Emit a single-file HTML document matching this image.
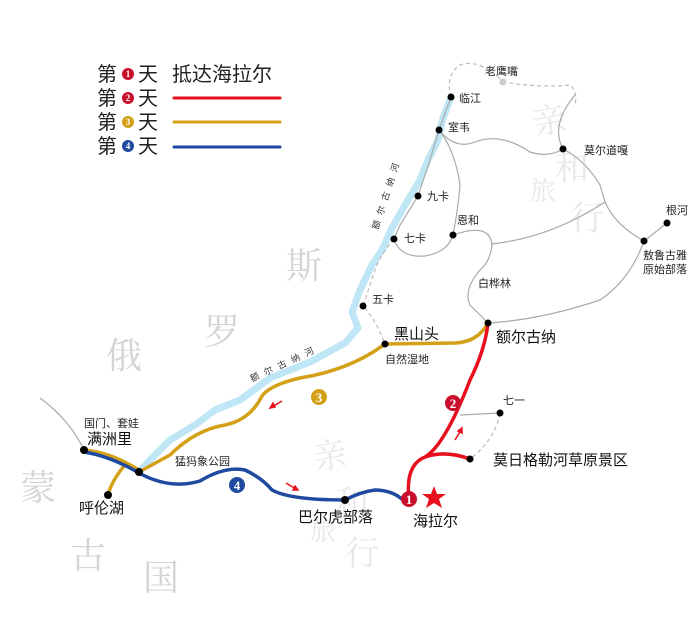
<!DOCTYPE html>
<html><head><meta charset="utf-8"><style>
html,body{margin:0;padding:0;background:#fff;}
svg{display:block;font-family:"Liberation Sans","Noto Sans CJK SC",sans-serif;}
</style></head><body>
<svg width="700" height="627" viewBox="0 0 700 627" xmlns="http://www.w3.org/2000/svg">
<g fill="#d4d4d4" font-size="36" font-family="'Noto Serif CJK SC','Noto Sans CJK SC',sans-serif">
<text x="286" y="278">斯</text>
<text x="204" y="344">罗</text>
<text x="106" y="368">俄</text>
<text x="20" y="500">蒙</text>
<text x="70" y="568">古</text>
<text x="143" y="590">国</text>
</g>
<g fill="#e8e8e8" font-size="34" font-family="'Noto Serif CJK SC',serif">
<text x="535" y="135" transform="rotate(-10 535 135)">亲</text>
<text x="555" y="180">和</text>
<text x="530" y="200" font-size="26">旅</text>
<text x="570" y="230">行</text>
<text x="315" y="470" transform="rotate(-10 315 470)">亲</text>
<text x="335" y="515">和</text>
<text x="310" y="540" font-size="26">旅</text>
<text x="345" y="565">行</text>
</g>
<path d="M451,97 L443,118 L438,140 L428,160 L420,180 L405,205 L392,228 L382,250 L372,265 L360,290 L352,312 L358,328 L345,343 L310,362 L270,378 L240,400 L215,410 L195,425 L170,440 L150,460 L139,472" fill="none" stroke="#bfe6f5" stroke-width="7" stroke-linejoin="round"/>
<g fill="none" stroke="#aaa" stroke-width="1.2">
<path d="M451,97 L439,130 L430,160 L418,196 L400,225 L394,239 Q400,258 425,256 Q448,252 453,235 Q458,210 460,185 Q455,150 439,130"/>
<path d="M439,130 Q455,150 475,142 Q500,132 530,152 Q548,158 563,149 Q585,160 600,185 L605,202 Q615,225 644,241"/>
<path d="M563,149 Q550,125 575,95"/>
<path d="M453,235 Q490,222 492,245 Q490,262 480,270 Q463,290 470,305 Q480,315 488,323"/>
<path d="M491,244 Q550,238 605,202"/>
<path d="M488,323 Q540,320 600,300 Q630,280 644,241 L667,223"/>
<path d="M460,415 L500,413"/>
<path d="M40,398 Q70,420 84,450"/>
</g>
<g fill="none" stroke="#bbb" stroke-width="1.2" stroke-dasharray="4,3">
<path d="M451,97 Q445,75 460,65 Q480,58 503,82 Q540,88 570,85 Q578,92 575,105"/>
<path d="M394,239 Q380,255 375,270 L363,306 Q375,318 385,344"/>
<path d="M500,413 Q495,440 470,459"/>
</g>
<path d="M488,323 Q478,342 455,343 L385,344 Q350,370 300,378 Q270,385 262,396 Q250,420 225,425 Q195,430 170,455 L139,472" fill="none" stroke="#d4a017" stroke-width="3.5" stroke-linejoin="round"/>
<path d="M84,450 Q110,452 139,470" fill="none" stroke="#d4a017" stroke-width="3.5"/>
<path d="M125,465 Q112,480 108,495" fill="none" stroke="#d4a017" stroke-width="3.5"/>
<path d="M84,452 Q110,456 139,473 Q170,490 200,481 Q225,466 245,470 Q262,478 272,490 Q290,500 345,500 Q360,492 375,490 Q392,490 403,500" fill="none" stroke="#1f4aa0" stroke-width="3.5" stroke-linejoin="round"/>
<path d="M409,499 Q405,465 425,457 Q445,445 470,380 Q485,350 488,323" fill="none" stroke="#e8101e" stroke-width="3.5"/>
<path d="M425,457 Q445,450 470,459" fill="none" stroke="#e8101e" stroke-width="3.5"/>
<g stroke="#e8101e" stroke-width="1.5" fill="#e8101e">
<path d="M282,401 L272,407" /><path d="M270,408 l5,-1 l-2,-4 z"/>
<path d="M286,483 L296,489"/><path d="M298,490 l-5,0 l2,-4 z"/>
<path d="M455,440 L461,430"/><path d="M462,428 l0,5 l-4,-2 z"/>
</g>
<g fill="#000">
<circle cx="451" cy="97" r="3.5"/><circle cx="439" cy="130" r="3.5"/><circle cx="563" cy="149" r="3.5"/>
<circle cx="418" cy="196" r="3.5"/><circle cx="453" cy="235" r="3.5"/><circle cx="394" cy="239" r="3.5"/>
<circle cx="667" cy="223" r="3.5"/><circle cx="644" cy="241" r="3.5"/><circle cx="363" cy="306" r="3.5"/>
<circle cx="488" cy="323" r="3.5"/><circle cx="385" cy="344" r="3.5"/><circle cx="500" cy="413" r="3.5"/>
<circle cx="470" cy="459" r="3.5"/><circle cx="84" cy="450" r="4"/><circle cx="139" cy="472" r="4"/>
<circle cx="108" cy="495" r="4"/><circle cx="345" cy="500" r="4"/>
</g>
<circle cx="503" cy="82" r="3.5" fill="#ccc"/>
<g font-size="11" fill="#222">
<text x="485" y="75">老鹰嘴</text><text x="459" y="102">临江</text><text x="448" y="131">室韦</text>
<text x="584" y="154">莫尔道嘎</text><text x="427" y="200">九卡</text><text x="457" y="224">恩和</text>
<text x="404" y="242">七卡</text><text x="666" y="214">根河</text><text x="643" y="259">敖鲁古雅</text>
<text x="643" y="273">原始部落</text><text x="478" y="287">白桦林</text><text x="372" y="303">五卡</text>
<text x="385" y="363">自然湿地</text><text x="503" y="404">七一</text><text x="84" y="427">国门、套娃</text>
<text x="175" y="465">猛犸象公园</text>
</g>
<g font-size="9" fill="#333">
<text transform="translate(378,230) rotate(-72)" letter-spacing="6">额尔古纳河</text>
<text transform="translate(252,382) rotate(-25)" letter-spacing="6">额尔古纳河</text>
</g>
<g font-size="15" fill="#111">
<text x="394" y="339">黑山头</text><text x="496" y="342">额尔古纳</text><text x="493" y="465">莫日格勒河草原景区</text>
<text x="87" y="444">满洲里</text><text x="79" y="513">呼伦湖</text><text x="298" y="522">巴尔虎部落</text>
<text x="413" y="526">海拉尔</text>
</g>
<g font-size="13" font-weight="bold" fill="#fff" text-anchor="middle" font-family="'Liberation Serif',serif">
<circle cx="409" cy="499" r="8" fill="#c8102e"/><text x="409" y="504">1</text>
<circle cx="453" cy="403" r="8" fill="#c8102e"/><text x="453" y="408">2</text>
<circle cx="319" cy="397" r="8" fill="#d4a017"/><text x="319" y="402">3</text>
<circle cx="237" cy="485" r="8" fill="#1f4aa0"/><text x="237" y="490">4</text>
</g>
<polygon points="434,486 437,494 446,494 439,499 442,508 434,503 426,508 429,499 422,494 431,494" fill="#e8101e"/>
<g font-size="20" fill="#222">
<text x="97" y="81">第</text><text x="138" y="81">天</text><text x="172" y="81">抵达海拉尔</text>
<text x="97" y="105">第</text><text x="138" y="105">天</text>
<text x="97" y="129">第</text><text x="138" y="129">天</text>
<text x="97" y="153">第</text><text x="138" y="153">天</text>
</g>
<g font-size="9" font-weight="bold" fill="#fff" text-anchor="middle" font-family="'Liberation Serif',serif">
<circle cx="128" cy="74" r="6" fill="#c8102e"/><text x="128" y="77">1</text>
<circle cx="128" cy="98" r="6" fill="#c8102e"/><text x="128" y="101">2</text>
<circle cx="128" cy="122" r="6" fill="#d4a017"/><text x="128" y="125">3</text>
<circle cx="128" cy="146" r="6" fill="#1f4aa0"/><text x="128" y="149">4</text>
</g>
<line x1="174" y1="98" x2="280" y2="98" stroke="#e8101e" stroke-width="3" stroke-linecap="round"/>
<line x1="174" y1="122" x2="280" y2="122" stroke="#d4a017" stroke-width="3" stroke-linecap="round"/>
<line x1="174" y1="147" x2="280" y2="147" stroke="#1f4aa0" stroke-width="3" stroke-linecap="round"/>
</svg>
</body></html>
